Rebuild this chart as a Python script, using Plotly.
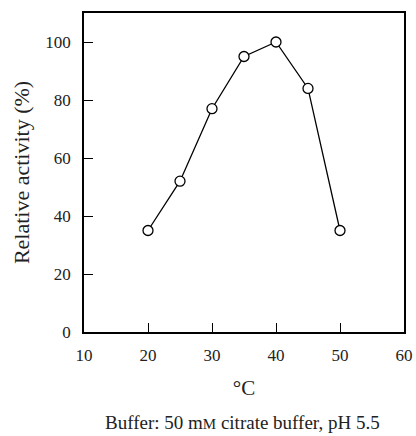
import plotly.graph_objects as go

# Temperature profile (relative activity vs temperature)
temperature = [20, 25, 30, 35, 40, 45, 50]
activity = [35, 52, 77, 95, 100, 84, 35]

x_ticks = [10, 20, 30, 40, 50, 60]
y_ticks = [0, 20, 40, 60, 80, 100]

serif = "Liberation Serif, Times New Roman, serif"
ink = "#222"

fig = go.Figure()
fig.add_trace(
    go.Scatter(
        x=temperature,
        y=activity,
        mode="lines+markers",
        line=dict(color="black", width=1.3),
        marker=dict(symbol="circle", size=10, color="white",
                    line=dict(color="black", width=1.3)),
        showlegend=False,
    )
)

axis_common = dict(
    showgrid=False,
    zeroline=False,
    showline=True,
    linecolor="black",
    linewidth=1.5,
    mirror=True,
    ticks="inside",
    ticklen=9,
    tickwidth=1.3,
    tickcolor="black",
    tickfont=dict(family=serif, size=17, color=ink),
    automargin=False,
)

fig.update_xaxes(
    range=[10, 60],
    tickvals=x_ticks,
    ticklabelstandoff=7,
    title=dict(text="°C", font=dict(family=serif, size=21, color=ink), standoff=16),
    **axis_common,
)
fig.update_yaxes(
    range=[0, 110],
    tickvals=y_ticks,
    ticklabelstandoff=8,
    title=dict(text="Relative activity (%)", font=dict(family=serif, size=22, color=ink), standoff=10),
    **axis_common,
)

fig.add_annotation(
    text="Buffer: 50 m<span style='font-size:15px'>M</span> citrate buffer, pH 5.5",
    xref="paper", yref="paper",
    x=0.494, y=-0.285,
    xanchor="center", yanchor="middle",
    showarrow=False,
    font=dict(family=serif, size=19, color=ink),
)

fig.update_layout(
    width=416,
    height=436,
    margin=dict(l=84, r=12, t=13, b=104),
    plot_bgcolor="white",
    paper_bgcolor="white",
)

fig.write_html("out.html", config={"displayModeBar": False},
               post_script="document.body.style.margin='0';")
